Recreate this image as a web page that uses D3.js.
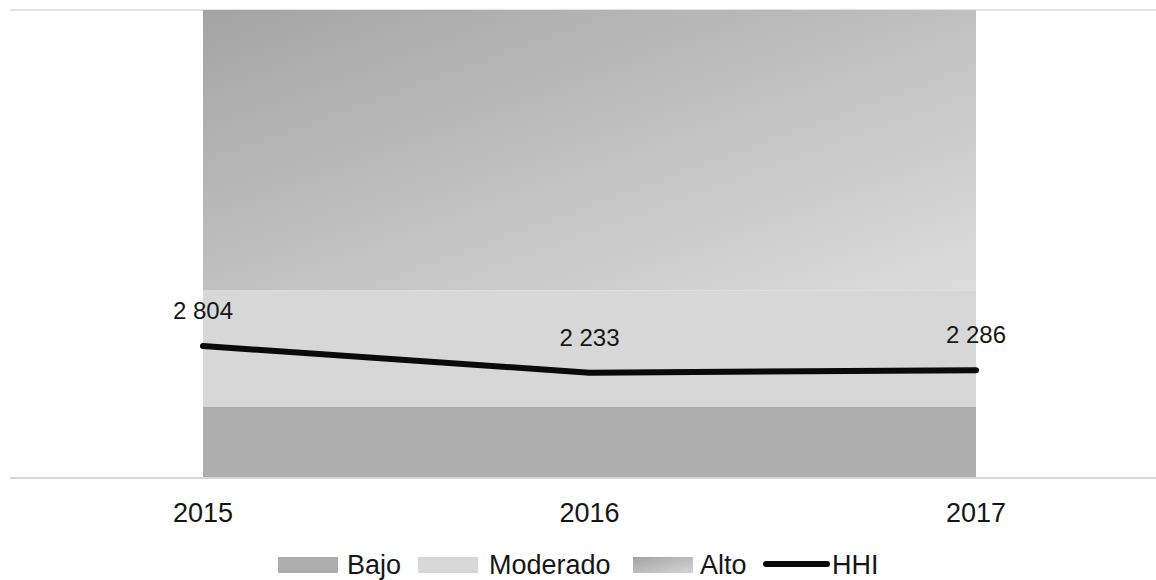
<!DOCTYPE html>
<html>
<head>
<meta charset="utf-8">
<script src="https://cdn.jsdelivr.net/npm/d3@7"></script>
<style>
  html, body { margin: 0; padding: 0; background: #fff; }
  svg { display: block; }
  text { font-family: "Liberation Sans", Arial, sans-serif; fill: #161616; }
</style>
</head>
<body>
<svg id="chart" width="1156" height="580"></svg>
<script>
// ---- data ----
const years = ["2015", "2016", "2017"];
const bajo = [1500, 1500, 1500];
const moderado = [2500, 2500, 2500];
const alto = [6000, 6000, 6000];
const hhi = [2804, 2233, 2286];
const hhiLabels = ["2 804", "2 233", "2 286"];
const legendLabels = ["Bajo", "Moderado", "Alto", "HHI"];

// ---- layout ----
const svg = d3.select("#chart");
const W = 1156, H = 580;
const x = d3.scalePoint().domain(years).range([203, 976]);
const y = d3.scaleLinear().domain([0, 10000]).range([477, 10]);

const defs = svg.append("defs");
const grad = defs.append("linearGradient").attr("id", "altoGrad")
  .attr("x1", "0%").attr("y1", "0%").attr("x2", "100%").attr("y2", "100%");
grad.append("stop").attr("offset", "0%").attr("stop-color", "#a4a4a4");
grad.append("stop").attr("offset", "100%").attr("stop-color", "#dcdcdc");

// top gridline
svg.append("line").attr("x1", 10).attr("x2", W).attr("y1", y(10000)).attr("y2", y(10000))
  .attr("stroke", "#e2e2e2").attr("stroke-width", 2);

// stacked areas
const rows = years.map((yr, i) => ({ year: yr, Bajo: bajo[i], Moderado: moderado[i], Alto: alto[i] }));
const stack = d3.stack().keys(["Bajo", "Moderado", "Alto"])(rows);
const fills = { Bajo: "#adadad", Moderado: "#d7d7d7", Alto: "url(#altoGrad)" };
const area = d3.area()
  .x(d => x(d.data.year))
  .y0(d => y(d[0]))
  .y1(d => y(d[1]));
svg.selectAll("path.band").data(stack).join("path")
  .attr("class", "band")
  .attr("d", area)
  .attr("fill", d => fills[d.key]);

// bottom axis line
svg.append("line").attr("x1", 10).attr("x2", W).attr("y1", y(0) + 1).attr("y2", y(0) + 1)
  .attr("stroke", "#d6d6d6").attr("stroke-width", 2);

// HHI line
const line = d3.line().x((d, i) => x(years[i])).y(d => y(d));
svg.append("path").datum(hhi)
  .attr("d", line)
  .attr("fill", "none")
  .attr("stroke", "#0a0a0a")
  .attr("stroke-width", 6)
  .attr("stroke-linecap", "round")
  .attr("stroke-linejoin", "round");

// data labels
svg.selectAll("text.lbl").data(hhi).join("text")
  .attr("class", "lbl")
  .attr("x", (d, i) => x(years[i]))
  .attr("y", d => y(d) - 27)
  .attr("text-anchor", "middle")
  .attr("font-size", 24)
  .text((d, i) => hhiLabels[i]);

// x axis labels
svg.selectAll("text.year").data(years).join("text")
  .attr("class", "year")
  .attr("x", d => x(d))
  .attr("y", 522)
  .attr("text-anchor", "middle")
  .attr("font-size", 27)
  .text(d => d);

// legend
const legend = svg.append("g");
const lg = defs.append("linearGradient").attr("id", "altoGradL")
  .attr("x1", "0%").attr("y1", "0%").attr("x2", "100%").attr("y2", "100%");
lg.append("stop").attr("offset", "0%").attr("stop-color", "#a4a4a4");
lg.append("stop").attr("offset", "100%").attr("stop-color", "#d4d4d4");
const items = [
  { label: legendLabels[0], type: "rect", fill: fills.Bajo, sx: 278, tx: 347 },
  { label: legendLabels[1], type: "rect", fill: fills.Moderado, sx: 418, tx: 489 },
  { label: legendLabels[2], type: "rect", fill: "url(#altoGradL)", sx: 633, tx: 700 },
  { label: legendLabels[3], type: "line", sx: 766, tx: 832 }
];
items.forEach(it => {
  if (it.type === "rect") {
    legend.append("rect").attr("x", it.sx).attr("y", 557).attr("width", 60).attr("height", 16).attr("fill", it.fill);
  } else {
    legend.append("line").attr("x1", it.sx).attr("x2", it.sx + 61).attr("y1", 564).attr("y2", 564)
      .attr("stroke", "#0a0a0a").attr("stroke-width", 6).attr("stroke-linecap", "round");
  }
  legend.append("text").attr("x", it.tx).attr("y", 574).attr("font-size", 27).text(it.label);
});
</script>
</body>
</html>
